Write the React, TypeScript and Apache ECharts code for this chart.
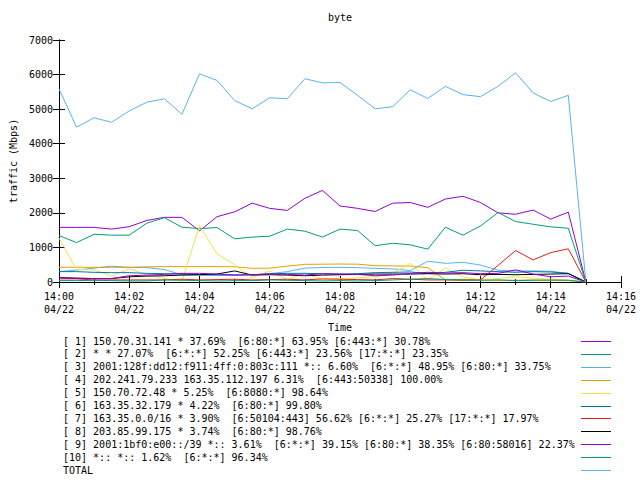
import React, { useEffect, useRef } from "react";
import * as echarts from "echarts";

// sample times, minutes after 14:00 (04/22)
const sampleMinutes = [
  0, 0.5, 1, 1.5, 2, 2.5, 3, 3.5, 4, 4.5, 5, 5.5, 6, 6.5, 7, 7.5, 8, 8.5, 9, 9.5,
  10, 10.5, 11, 11.5, 12, 12.5, 13, 13.5, 14, 14.5, 15,
];

const seriesNames = [
  "[ 1] 150.70.31.141 * 37.69%  [6:80:*] 63.95% [6:443:*] 30.78%",
  "[ 2] * * 27.07%  [6:*:*] 52.25% [6:443:*] 23.56% [17:*:*] 23.35%",
  "[ 3] 2001:128f:dd12:f911:4ff:0:803c:111 *:: 6.60%  [6:*:*] 48.95% [6:80:*] 33.75%",
  "[ 4] 202.241.79.233 163.35.112.197 6.31%  [6:443:50338] 100.00%",
  "[ 5] 150.70.72.48 * 5.25%  [6:8080:*] 98.64%",
  "[ 6] 163.35.32.179 * 4.22%  [6:80:*] 99.80%",
  "[ 7] 163.35.0.0/16 * 3.90%  [6:50104:443] 56.62% [6:*:*] 25.27% [17:*:*] 17.97%",
  "[ 8] 203.85.99.175 * 3.74%  [6:80:*] 98.76%",
  "[ 9] 2001:1bf0:e00::/39 *:: 3.61%  [6:*:*] 39.15% [6:80:*] 38.35% [6:80:58016] 22.37%",
  "[10] *:: *:: 1.62%  [6:*:*] 96.34%",
  "TOTAL",
];

const seriesColors = [
  "#9400d3", "#009e73", "#56b4e9", "#e69f00", "#f0e442", "#0072b2",
  "#e51e10", "#000000", "#9400d3", "#009e73", "#56b4e9",
];

const s1 = [1580, 1580, 1580, 1530, 1600, 1780, 1870, 1870, 1480, 1890, 2030, 2280, 2130, 2070, 2420, 2650, 2200, 2130, 2040, 2280, 2300, 2160, 2400, 2480, 2300, 2000, 1960, 2080, 1820, 2020, 0];
const s2 = [1345, 1140, 1380, 1355, 1355, 1700, 1860, 1585, 1545, 1575, 1250, 1300, 1325, 1530, 1470, 1300, 1530, 1490, 1050, 1120, 1075, 950, 1585, 1355, 1620, 2010, 1750, 1670, 1595, 1555, 0];
const s3 = [300, 345, 400, 460, 420, 415, 360, 210, 205, 205, 205, 210, 240, 300, 400, 420, 425, 415, 395, 380, 330, 600, 540, 570, 490, 340, 320, 320, 310, 250, 0];
const s4 = [425, 425, 425, 425, 425, 440, 445, 445, 445, 445, 440, 395, 400, 460, 510, 515, 520, 515, 470, 465, 460, 415, 60, 80, 60, 50, 50, 60, 40, 40, 0];
const s5 = [1270, 360, 350, 170, 380, 210, 100, 20, 1630, 810, 500, 120, 320, 60, 260, 60, 100, 120, 150, 250, 540, 60, 400, 150, 60, 100, 150, 110, 80, 60, 0];
const s6 = [300, 300, 280, 270, 270, 250, 240, 230, 210, 200, 200, 210, 240, 250, 250, 240, 230, 240, 270, 280, 290, 250, 280, 340, 320, 300, 280, 300, 290, 250, 0];
const s7 = [90, 90, 60, 60, 60, 60, 60, 80, 60, 70, 80, 60, 70, 80, 60, 90, 80, 70, 60, 100, 80, 60, 60, 50, 60, 480, 910, 640, 850, 960, 0];
const s8 = [130, 110, 100, 100, 150, 170, 180, 200, 210, 230, 320, 200, 210, 200, 180, 200, 210, 220, 230, 230, 230, 240, 230, 240, 210, 220, 210, 220, 230, 240, 0];
const s9 = [120, 110, 100, 100, 180, 200, 220, 250, 250, 230, 200, 210, 230, 220, 200, 240, 230, 220, 180, 200, 250, 280, 260, 270, 240, 250, 350, 230, 150, 170, 0];
const s10 = [40, 40, 50, 40, 30, 30, 60, 50, 40, 30, 40, 40, 60, 50, 40, 30, 40, 30, 40, 60, 80, 100, 70, 60, 50, 60, 40, 50, 60, 50, 0];
const total = [5590, 4480, 4750, 4620, 4950, 5200, 5300, 4850, 6020, 5830, 5250, 5010, 5330, 5300, 5880, 5760, 5770, 5400, 5010, 5070, 5560, 5310, 5660, 5420, 5360, 5660, 6050, 5470, 5220, 5400, 0];

const seriesValues = [s1, s2, s3, s4, s5, s6, s7, s8, s9, s10, total];

const tickHour = "14";
const tickDate = "04/22";

const FONT = "DejaVu Sans Mono";

export default function App() {
  const ref = useRef<HTMLDivElement>(null);

  useEffect(() => {
    if (!ref.current) return;
    const chart = echarts.init(ref.current, undefined, { renderer: "svg" });

    const axisLineStyle = { color: "#000", width: 1 };
    const labelStyle = { fontFamily: FONT, fontSize: 10, color: "#000" };

    const legendGraphics: any[] = [];
    seriesNames.forEach((name, i) => {
      const y = 341 + i * 12.9;
      legendGraphics.push({
        type: "text",
        x: 63,
        y,
        style: {
          text: name,
          fontFamily: FONT,
          fontSize: 10,
          fill: "#000",
          verticalAlign: "middle",
          align: "left",
        },
      });
      legendGraphics.push({
        type: "line",
        shape: { x1: 581, y1: Math.round(y) + 0.5, x2: 611, y2: Math.round(y) + 0.5 },
        style: { stroke: seriesColors[i], lineWidth: 1 },
      });
    });

    chart.setOption({
      animation: false,
      backgroundColor: "#fff",
      title: {
        text: "byte",
        left: 328,
        top: 12,
        padding: 0,
        textStyle: { fontFamily: FONT, fontSize: 10, fontWeight: "normal", color: "#000" },
      },
      grid: { left: 58, top: 40, width: 563, height: 242, containLabel: false },
      xAxis: [
        {
          type: "value",
          position: "bottom",
          min: 0,
          max: 16,
          interval: 2,
          name: "Time",
          nameLocation: "middle",
          nameGap: 40,
          nameTextStyle: { fontFamily: FONT, fontSize: 10, color: "#000" },
          axisLine: { lineStyle: axisLineStyle },
          axisTick: { inside: true, length: 6, lineStyle: axisLineStyle },
          minorTick: { show: true, splitNumber: 2, length: 3, lineStyle: axisLineStyle },
          splitLine: { show: false },
          axisLabel: {
            ...labelStyle,
            margin: 8,
            lineHeight: 13,
            formatter: (v: number) => `${tickHour}:${String(v).padStart(2, "0")}\n${tickDate}`,
          },
        },
        {
          type: "value",
          position: "top",
          min: 0,
          max: 16,
          interval: 2,
          axisLine: { lineStyle: axisLineStyle },
          axisTick: { inside: true, length: 6, lineStyle: axisLineStyle },
          minorTick: { show: true, splitNumber: 2, length: 3, lineStyle: axisLineStyle },
          splitLine: { show: false },
          axisLabel: { show: false },
        },
      ],
      yAxis: [
        {
          type: "value",
          position: "left",
          min: 0,
          max: 7000,
          interval: 1000,
          name: "traffic (Mbps)",
          nameLocation: "middle",
          nameRotate: 90,
          nameGap: 40,
          nameTextStyle: { fontFamily: FONT, fontSize: 10, color: "#000" },
          axisLine: { show: true, lineStyle: axisLineStyle },
          axisTick: { show: true, inside: true, length: 6, lineStyle: axisLineStyle },
          splitLine: { show: false },
          axisLabel: { ...labelStyle, margin: 6, formatter: (v: number) => String(v) },
        },
        {
          type: "value",
          position: "right",
          min: 0,
          max: 7000,
          interval: 1000,
          axisLine: { show: true, lineStyle: axisLineStyle },
          axisTick: { show: true, inside: true, length: 6, lineStyle: axisLineStyle },
          splitLine: { show: false },
          axisLabel: { show: false },
        },
      ],
      series: seriesValues.map((vals, i) => ({
        type: "line",
        name: seriesNames[i],
        xAxisIndex: 0,
        yAxisIndex: 0,
        data: vals.map((v, k) => [sampleMinutes[k], v]),
        showSymbol: false,
        symbol: "none",
        lineStyle: { color: seriesColors[i], width: 1 },
        itemStyle: { color: seriesColors[i] },
        z: 2 + i,
      })),
      graphic: legendGraphics,
    });

    return () => chart.dispose();
  }, []);

  return <div ref={ref} style={{ width: 640, height: 480, position: "absolute", left: 0, top: 0 }} />;
}
